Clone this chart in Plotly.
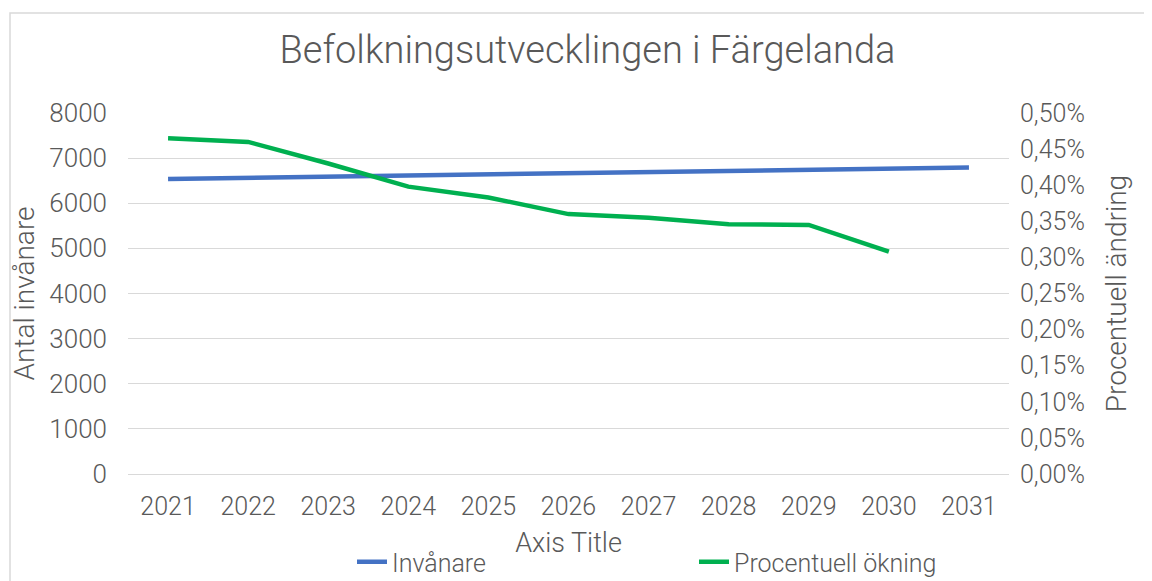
import plotly.graph_objects as go

years = ["2021", "2022", "2023", "2024", "2025", "2026", "2027", "2028", "2029", "2030", "2031"]
invanare = [6540, 6566, 6591, 6615, 6640, 6664, 6690, 6714, 6740, 6765, 6790]
okning_years = ["2021", "2022", "2023", "2024", "2025", "2026", "2027", "2028", "2029", "2030"]
okning = [0.00465, 0.00460, 0.00430, 0.00398, 0.00383, 0.00360, 0.00355, 0.00346, 0.00345, 0.00308]

GRAY = "#595959"
FONT = "Roboto"
WT = 300

def f(size):
    return dict(family=FONT, size=size, color=GRAY, weight=WT)

fig = go.Figure()
fig.add_trace(go.Scatter(x=years, y=invanare, name="Invånare", mode="lines",
                         line=dict(color="#4472C4", width=4.5)))
fig.add_trace(go.Scatter(x=okning_years, y=okning, name="Procentuell ökning", mode="lines",
                         line=dict(color="#00B050", width=4.5), yaxis="y2"))

# page has an 8px body margin; figure coordinates = page coordinates - 8
OFF = 8
W, H = 1152 - OFF, 581 - OFF
L, R, T, B = 128 - OFF, 1009 - OFF, 113 - OFF, 474 - OFF

fig.update_layout(
    width=W, height=H,
    margin=dict(l=L, r=W - R, t=T, b=H - B, autoexpand=False),
    paper_bgcolor="white", plot_bgcolor="white",
    separators=", ",
    font=f(24),
    title=dict(text="Befolkningsutvecklingen i Färgelanda", xref="paper",
               x=(587.5 - 128) / (R - L), xanchor="center",
               y=1 - (50 - OFF) / H, yanchor="middle", font=f(38)),
    xaxis=dict(type="category", range=[-0.5, 10.5], showgrid=False, showline=True,
               linecolor="#D9D9D9", linewidth=1, ticks="", ticklabelstandoff=10,
               tickfont=f(25),
               title=dict(text="Axis Title", font=f(27), standoff=13)),
    yaxis=dict(range=[0, 8000], dtick=1000, tickformat="d", showgrid=True, gridcolor="#D9D9D9",
               gridwidth=1, zeroline=False, showline=False, ticks="", ticklabelstandoff=20,
               tickfont=f(26),
               title=dict(text="Antal invånare", font=f(28), standoff=6)),
    yaxis2=dict(range=[0, 0.005], dtick=0.0005, tickformat=".2%", overlaying="y", side="right",
                showgrid=False, zeroline=False, showline=False, ticks="", ticklabelstandoff=10,
                tickfont=f(25),
                title=dict(text="Procentuell ändring", font=f(28), standoff=22)),
    legend=dict(orientation="h", x=(352 - 128) / (R - L), xanchor="left",
                y=(474 - 562) / (B - T), yanchor="middle",
                entrywidth=297, entrywidthmode="pixels",
                font=f(25), bgcolor="rgba(0,0,0,0)"),
    showlegend=True,
    shapes=[dict(type="rect", xref="paper", yref="paper",
                 x0=(10 - 128) / (R - L), x1=(1170 - 128) / (R - L),
                 y0=(474 - 620) / (B - T), y1=(474 - 13) / (B - T),
                 line=dict(color="#D9D9D9", width=1.5), fillcolor="rgba(0,0,0,0)", layer="below")],
)

fig.write_html("out.html")
